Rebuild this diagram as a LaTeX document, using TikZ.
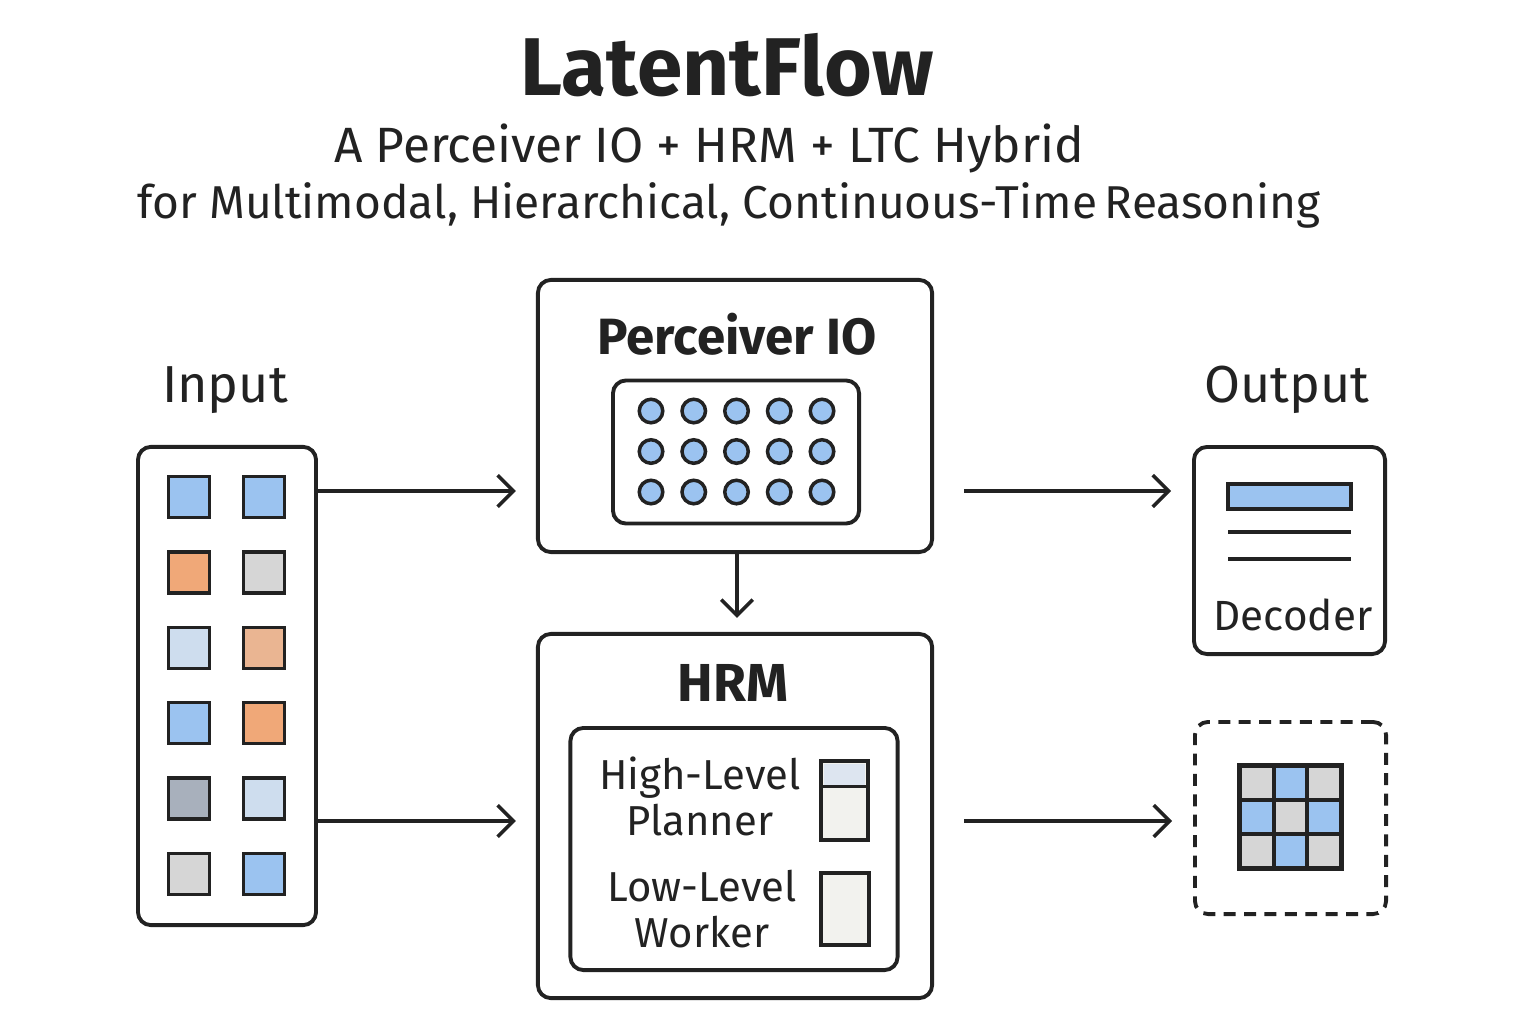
\documentclass[tikz,border=0pt]{standalone}
\usepackage{fontspec}
\setmainfont{Fira Sans}
\usetikzlibrary{arrows.meta,positioning}
\definecolor{ink}{RGB}{34,34,34}
\definecolor{cellblue}{RGB}{155,195,240}
\definecolor{cellorange}{RGB}{240,168,120}
\definecolor{lightorange}{RGB}{234,181,146}
\definecolor{cellgray}{RGB}{214,214,214}
\definecolor{lightblue}{RGB}{206,221,238}
\definecolor{slate}{RGB}{168,176,188}
\definecolor{paleblue}{RGB}{221,229,240}
\definecolor{pale}{RGB}{242,242,238}

\begin{document}
\begin{tikzpicture}[x=0.01cm,y=-0.01cm,
box/.style={draw=ink,rounded corners=0.13cm,line width=1.1pt,inner sep=0pt},
cell/.style={draw=ink,line width=1pt,minimum size=0.41cm,inner sep=0pt},
dot/.style={circle,draw=ink,fill=cellblue,line width=1pt,minimum size=0.235cm,inner sep=0pt},
flow/.style={-{Straight Barb[length=4.5pt,width=9pt]},line width=1pt,draw=ink},
lbl/.style={text=ink,anchor=base,font=\fontsize{14.8}{18}\selectfont},
small/.style={text=ink,anchor=base,align=center,font=\fontsize{11.9}{13}\selectfont},
head/.style={text=ink,anchor=base,font=\fontsize{14.5}{18}\selectfont\bfseries}]
\useasboundingbox (0,0) rectangle (1536,1024);

\node[text=ink,anchor=base,font=\fontsize{23.3}{28}\selectfont\bfseries] (title) at (727,95) {LatentFlow};
\node[text=ink,anchor=base,font=\fontsize{14.1}{17}\selectfont] (sub1) at (709,162) {A Perceiver IO + HRM + LTC Hybrid};
\node[text=ink,anchor=base,font=\fontsize{13.1}{16}\selectfont] (sub2) at (729,218) {for Multimodal, Hierarchical, Continuous-Time\,Reasoning};

\node[lbl] (inlbl) at (225,402) {Input};
\node[box,minimum width=1.78cm,minimum height=4.78cm] (inbox) at (227,686) {};
\foreach \a/\b [count=\r] in {cellblue/cellblue,cellorange/cellgray,lightblue/lightorange,cellblue/cellorange,slate/lightblue,cellgray/cellblue}{
  \node[cell,fill=\a] (in-\r-1) at (189,{497+75.4*(\r-1)}) {};
  \node[cell,fill=\b] (in-\r-2) at (264,{497+75.4*(\r-1)}) {};
}

\node[box,minimum width=3.94cm,minimum height=2.72cm] (perc) at (735,416) {};
\node[head] (perclbl) at (737,354) {Perceiver IO};
\node[box,minimum width=2.46cm,minimum height=1.43cm] (latent) at (736,452) {};
\foreach \i in {0,...,4}
  \foreach \j in {0,1,2}
    \node[dot] (d-\i-\j) at ({651+42.75*\i},{411+40.5*\j}) {};

\node[box,minimum width=3.94cm,minimum height=3.64cm] (hrm) at (735,816) {};
\node[head,font=\fontsize{15.2}{18}\selectfont\bfseries] (hrmlbl) at (733,701) {HRM};
\node[box,minimum width=3.27cm,minimum height=2.42cm] (levels) at (734,849) {};
\node[small] (planner) at (700,835) {High-Level\\Planner};
\node[small] (worker) at (702,947) {Low-Level\\Worker};
\node[draw=ink,fill=pale,line width=1pt,minimum width=0.47cm,minimum height=0.79cm,inner sep=0pt] (planbar) at (844.5,800.5) {};
\fill[paleblue] ([shift={(0.05cm,-0.05cm)}]planbar.north west) rectangle ([shift={(-0.05cm,-0.27cm)}]planbar.north east);
\draw[ink,line width=0.8pt] ([yshift=-0.27cm]planbar.north west) -- ([yshift=-0.27cm]planbar.north east);
\node[draw=ink,fill=pale,line width=1pt,minimum width=0.48cm,minimum height=0.72cm,inner sep=0pt] (workbar) at (845,909) {};

\node[lbl] (outlbl) at (1287,402) {Output};
\node[box,minimum width=1.91cm,minimum height=2.07cm] (dec) at (1289.5,550.5) {};
\node[draw=ink,fill=cellblue,line width=1pt,minimum width=1.23cm,minimum height=0.25cm,inner sep=0pt] (decbar) at (1289.5,496.5) {};
\draw[ink,line width=1pt] (1228,532) -- (1351,532);
\draw[ink,line width=1pt] (1228,559) -- (1351,559);
\node[lbl,font=\fontsize{12}{14}\selectfont] (declbl) at (1293,630) {Decoder};

\node[box,dashed,dash pattern=on 3.4pt off 2.4pt,minimum width=1.91cm,minimum height=1.92cm] (gridbox) at (1290.5,818) {};
\foreach \c [count=\k from 0] in {cellgray,cellblue,cellgray,cellblue,cellgray,cellblue,cellgray,cellblue,cellgray}
  \node[cell,fill=\c,minimum size=0.335cm] (g-\k) at ({1257+33.5*mod(\k,3)},{783+34*int(\k/3)}) {};
\draw[ink,line width=1.1pt] (g-0.north west) rectangle (g-8.south east);

\draw[flow,shorten >=0.2cm] (inbox.east |- 0,491) -- (perc.west |- 0,491);
\draw[flow,shorten >=0.2cm] (inbox.east |- 0,821) -- (hrm.west |- 0,821);
\draw[flow,shorten >=0.14cm] (perc.south -| 737,0) -- (hrm.north -| 737,0);
\draw[flow,shorten <=0.3cm,shorten >=0.21cm] (perc.east |- 0,491) -- (dec.west |- 0,491);
\draw[flow,shorten <=0.3cm,shorten >=0.21cm] (hrm.east |- 0,821) -- (gridbox.west |- 0,821);
\end{tikzpicture}
\end{document}
